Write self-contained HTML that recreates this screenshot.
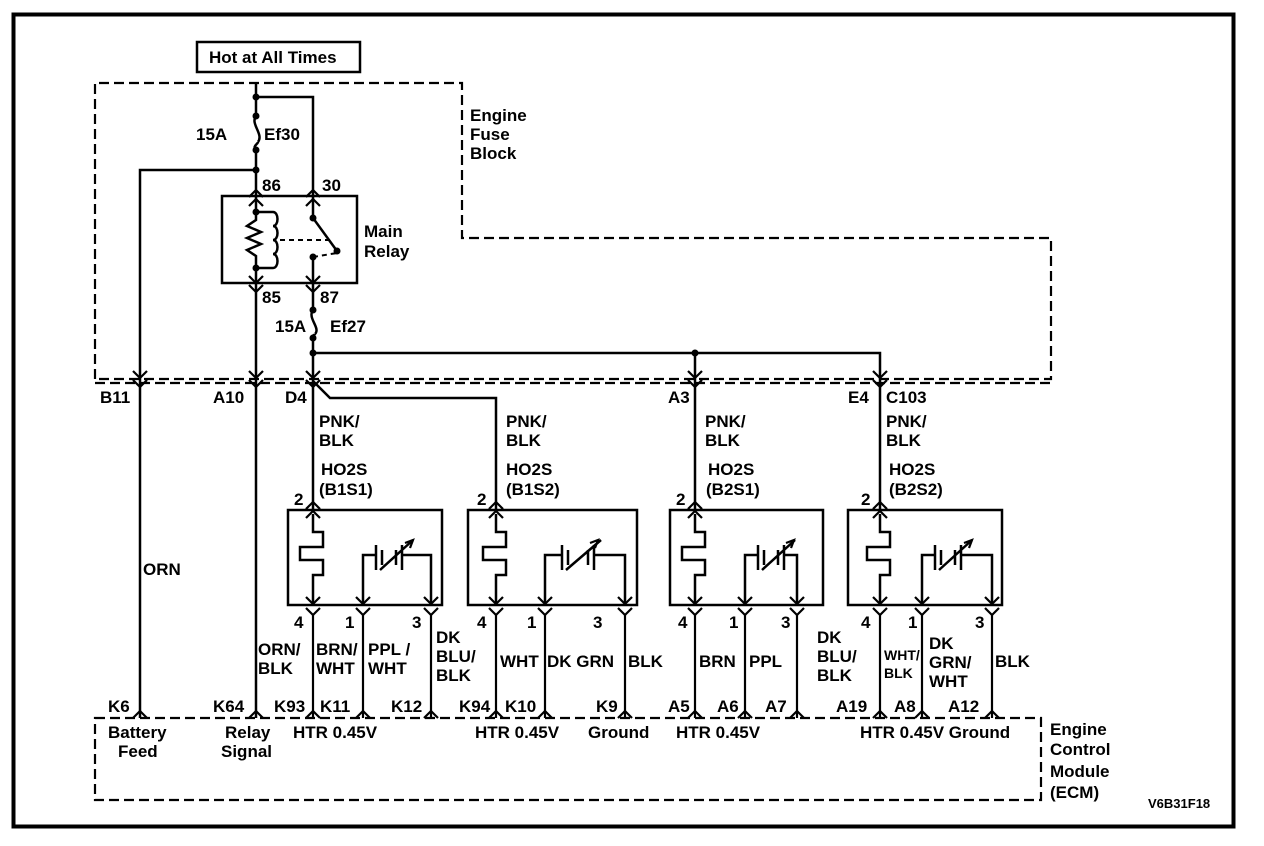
<!DOCTYPE html>
<html><head><meta charset="utf-8"><style>
html,body{margin:0;padding:0;background:#fff;}
svg{display:block;}
text{font-family:"Liberation Sans",Arial,sans-serif;font-size:17px;font-weight:bold;fill:#000;}
</style></head><body>
<svg width="1264" height="846" viewBox="0 0 1264 846" xmlns="http://www.w3.org/2000/svg">
<rect x="13.5" y="14.5" width="1220" height="812" fill="none" stroke="#000" stroke-width="4"/>
<rect x="197" y="42" width="163" height="30" fill="none" stroke="#000" stroke-width="2.5"/>
<text x="209" y="63">Hot at All Times</text>
<g fill="none" stroke="#000" stroke-width="2.2" stroke-dasharray="10,5">
<path d="M95,379 V83 H462 V238 H1051 V379 H95"/>
<path d="M95,383 H1051"/>
<rect x="95" y="718" width="946" height="82"/>
</g>
<text x="470" y="121">Engine</text><text x="470" y="140">Fuse</text><text x="470" y="159">Block</text>
<text x="1050" y="735">Engine</text><text x="1050" y="755">Control</text><text x="1050" y="777">Module</text><text x="1050" y="798">(ECM)</text>
<text x="1148" y="808" style="font-size:13px">V6B31F18</text>
<g fill="none" stroke="#000" stroke-width="2.5">
<path d="M256,83 V116 M256,150 V196 M256,97 H313 V196"/>
<path d="M256,116 C250,124 264,134 258,142 M256,150 C252,146 258,144 258,142"/>
<path d="M256,170 H140 V718"/>
<rect x="222" y="196" width="135" height="87"/>
<path d="M256,196 V212 M256,268 V283 M256,212 H273 M256,268 H273"/>
<path d="M256,212 V220 l-9,6 l14,6 l-14,6 l14,6 l-14,6 l9,6 V268"/>
<path d="M273,212 c6,0 6,14 0,14 c6,0 6,14 0,14 c6,0 6,14 0,14 c6,0 6,14 0,14"/>
<path d="M313,196 V218 L337,251 M313,257 V283"/>
<path d="M313,283 V310 M313,338 V381"/>
<path d="M313,310 C307,318 321,328 315,334 M313,338 C310,336 315,335 315,334"/>
<path d="M256,283 V718"/>
<path d="M313,353 H880 V381 M695,353 V381"/>
<path d="M313,381 L330,398 H496 V510 M313,381 V510 M695,381 V510 M880,381 V510"/>
</g>
<g fill="none" stroke="#000" stroke-width="2" stroke-dasharray="5,4">
<path d="M280,240 H330 M313,257 L337,253"/>
</g>
<g fill="#000">
<circle cx="256" cy="97" r="3.5"/><circle cx="256" cy="116" r="3.5"/><circle cx="256" cy="150" r="3.5"/><circle cx="256" cy="170" r="3.5"/>
<circle cx="256" cy="212" r="3.5"/><circle cx="256" cy="268" r="3.5"/><circle cx="313" cy="218" r="3.5"/><circle cx="337" cy="251" r="3.5"/><circle cx="313" cy="257" r="3.5"/>
<circle cx="313" cy="310" r="3.5"/><circle cx="313" cy="338" r="3.5"/><circle cx="313" cy="353" r="3.5"/><circle cx="695" cy="353" r="3.5"/>
</g>
<g fill="none" stroke="#000" stroke-width="2.2">
<path d="M249,197 l7,-7 l7,7 M249,206 l7,-7 l7,7 M306,197 l7,-7 l7,7 M306,206 l7,-7 l7,7"/>
<path d="M249,276 l7,7 l7,-7 M249,285 l7,7 l7,-7 M306,276 l7,7 l7,-7 M306,285 l7,7 l7,-7"/>
<path d="M133,371 l7,7 l7,-7 M133,380 l7,7 l7,-7 M249,371 l7,7 l7,-7 M249,380 l7,7 l7,-7 M306,371 l7,7 l7,-7 M306,380 l7,7 l7,-7 M688,371 l7,7 l7,-7 M688,380 l7,7 l7,-7 M873,371 l7,7 l7,-7 M873,380 l7,7 l7,-7"/>
<path d="M133,718 l7,-7 l7,7 M249,718 l7,-7 l7,7 M306,718 l7,-7 l7,7 M356,718 l7,-7 l7,7 M424,718 l7,-7 l7,7 M489,718 l7,-7 l7,7 M538,718 l7,-7 l7,7 M618,718 l7,-7 l7,7 M688,718 l7,-7 l7,7 M738,718 l7,-7 l7,7 M790,718 l7,-7 l7,7 M873,718 l7,-7 l7,7 M915,718 l7,-7 l7,7 M985,718 l7,-7 l7,7"/>
</g>
<text x="196" y="140">15A</text><text x="264" y="140">Ef30</text>
<text x="262" y="191">86</text><text x="322" y="191">30</text>
<text x="364" y="237">Main</text><text x="364" y="257">Relay</text>
<text x="262" y="303">85</text><text x="320" y="303">87</text>
<text x="275" y="332">15A</text><text x="330" y="332">Ef27</text>
<text x="100" y="403">B11</text><text x="213" y="403">A10</text><text x="285" y="403">D4</text><text x="668" y="403">A3</text><text x="848" y="403">E4</text><text x="886" y="403">C103</text>
<text x="143" y="575">ORN</text>
<text x="258" y="655">ORN/</text><text x="258" y="674">BLK</text>
<text x="108" y="712">K6</text><text x="213" y="712">K64</text>
<text x="108" y="738">Battery</text><text x="118" y="757">Feed</text>
<text x="225" y="738">Relay</text><text x="221" y="757">Signal</text>
<text x="293" y="738">HTR  0.45V</text><text x="475" y="738">HTR  0.45V</text><text x="588" y="738">Ground</text>
<text x="676" y="738">HTR  0.45V</text><text x="860" y="738">HTR 0.45V Ground</text>
<text x="274" y="712">K93</text><text x="320" y="712">K11</text><text x="391" y="712">K12</text>
<text x="459" y="712">K94</text><text x="505" y="712">K10</text><text x="596" y="712">K9</text>
<text x="668" y="712">A5</text><text x="717" y="712">A6</text><text x="765" y="712">A7</text><text x="836" y="712">A19</text><text x="894" y="712">A8</text><text x="948" y="712">A12</text>
<text x="316" y="655">BRN/</text><text x="316" y="674">WHT</text>
<text x="368" y="655">PPL /</text><text x="368" y="674">WHT</text>
<text x="436" y="643">DK</text><text x="436" y="662">BLU/</text><text x="436" y="681">BLK</text>
<text x="500" y="667">WHT</text><text x="547" y="667">DK GRN</text><text x="628" y="667">BLK</text>
<text x="699" y="667">BRN</text><text x="749" y="667">PPL</text>
<text x="817" y="643">DK</text><text x="817" y="662">BLU/</text><text x="817" y="681">BLK</text>
<text x="884" y="660" style="font-size:14px">WHT/</text><text x="884" y="678" style="font-size:14px">BLK</text>
<text x="929" y="649">DK</text><text x="929" y="668">GRN/</text><text x="929" y="687">WHT</text>
<text x="995" y="667">BLK</text>
<text x="319" y="427">PNK/</text><text x="319" y="446">BLK</text><text x="321" y="475">HO2S</text><text x="319" y="495">(B1S1)</text>
<text x="506" y="427">PNK/</text><text x="506" y="446">BLK</text><text x="506" y="475">HO2S</text><text x="506" y="495">(B1S2)</text>
<text x="705" y="427">PNK/</text><text x="705" y="446">BLK</text><text x="708" y="475">HO2S</text><text x="706" y="495">(B2S1)</text>
<text x="886" y="427">PNK/</text><text x="886" y="446">BLK</text><text x="889" y="475">HO2S</text><text x="889" y="495">(B2S2)</text>
<g fill="none" stroke="#000" stroke-width="2.5">
<rect x="288" y="510" width="154" height="95"/>
<rect x="468" y="510" width="169" height="95"/>
<rect x="670" y="510" width="153" height="95"/>
<rect x="848" y="510" width="154" height="95"/>
</g>
<g fill="none" stroke="#000" stroke-width="2.5">
<path d="M313,514 V532 H323 V547 H300 V560 H323 V575 H313 V604 M363,604 V555 H376 M376,545 V570 M382,550 V565 M396,550 V565 M402,545 V570 M402,555 H431 V604 M380,570 L413,540"/>
<path d="M496,514 V532 H506 V547 H483 V560 H506 V575 H496 V604 M545,604 V555 H562 M562,545 V570 M568,550 V565 M588,550 V565 M594,545 V570 M594,555 H625 V604 M566,570 L601,540"/>
<path d="M695,514 V532 H705 V547 H682 V560 H705 V575 H695 V604 M745,604 V555 H758 M758,545 V570 M764,550 V565 M778,550 V565 M784,545 V570 M784,555 H797 V604 M762,570 L795,540"/>
<path d="M880,514 V532 H890 V547 H867 V560 H890 V575 H880 V604 M922,604 V555 H935 M935,545 V570 M941,550 V565 M955,550 V565 M961,545 V570 M961,555 H992 V604 M939,570 L972,540"/>
</g>
<g fill="none" stroke="#000" stroke-width="2.2">
<path d="M306,518 l7,-7 l7,7 M489,518 l7,-7 l7,7 M688,518 l7,-7 l7,7 M873,518 l7,-7 l7,7"/>
<path d="M306,509 l7,-7 l7,7 M489,509 l7,-7 l7,7 M688,509 l7,-7 l7,7 M873,509 l7,-7 l7,7"/>
<path d="M306,597 l7,7 l7,-7 M356,597 l7,7 l7,-7 M424,597 l7,7 l7,-7 M489,597 l7,7 l7,-7 M538,597 l7,7 l7,-7 M618,597 l7,7 l7,-7 M688,597 l7,7 l7,-7 M738,597 l7,7 l7,-7 M790,597 l7,7 l7,-7 M873,597 l7,7 l7,-7 M915,597 l7,7 l7,-7 M985,597 l7,7 l7,-7"/>
<path d="M306,608 l7,7 l7,-7 M356,608 l7,7 l7,-7 M424,608 l7,7 l7,-7 M489,608 l7,7 l7,-7 M538,608 l7,7 l7,-7 M618,608 l7,7 l7,-7 M688,608 l7,7 l7,-7 M738,608 l7,7 l7,-7 M790,608 l7,7 l7,-7 M873,608 l7,7 l7,-7 M915,608 l7,7 l7,-7 M985,608 l7,7 l7,-7"/>
<path d="M313,615 V718 M363,615 V718 M431,615 V718 M496,615 V718 M545,615 V718 M625,615 V718 M695,615 V718 M745,615 V718 M797,615 V718 M880,615 V718 M922,615 V718 M992,615 V718"/>
<path d="M405,543 l8,-3 l-3,8 M590,543 l8,-3 l-3,8 M786,543 l8,-3 l-3,8 M964,543 l8,-3 l-3,8"/>
</g>
<text x="294" y="505">2</text><text x="477" y="505">2</text><text x="676" y="505">2</text><text x="861" y="505">2</text>
<text x="294" y="628">4</text><text x="345" y="628">1</text><text x="412" y="628">3</text>
<text x="477" y="628">4</text><text x="527" y="628">1</text><text x="593" y="628">3</text>
<text x="678" y="628">4</text><text x="729" y="628">1</text><text x="781" y="628">3</text>
<text x="861" y="628">4</text><text x="908" y="628">1</text><text x="975" y="628">3</text>
</svg>
</body></html>
